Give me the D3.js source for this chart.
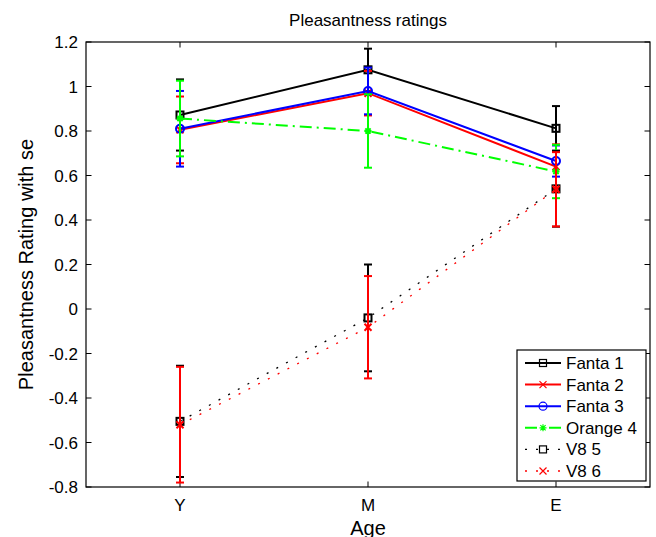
<!DOCTYPE html>
<html>
<head>
<meta charset="utf-8">
<script src="https://cdn.jsdelivr.net/npm/d3@7"></script>
<style>
body { margin: 0; background: #fff; }
text { font-family: "Liberation Sans", Arial, Helvetica, sans-serif; }
</style>
</head>
<body>
<div id="canvas"></div>
<script>
// data
var categories = ["Y", "M", "E"];
var seriesNames = ["Fanta 1", "Fanta 2", "Fanta 3", "Orange 4", "V8 5", "V8 6"];
var fanta1 = [0.872, 1.075, 0.812];
var fanta1Se = [0.16, 0.095, 0.10];
var fanta2 = [0.805, 0.97, 0.64];
var fanta2Se = [0.15, 0.10, 0.10];
var fanta3 = [0.81, 0.98, 0.665];
var fanta3Se = [0.17, 0.105, 0.07];
var orange4 = [0.856, 0.80, 0.618];
var orange4Se = [0.17, 0.165, 0.12];
var v8a = [-0.505, -0.04, 0.54];
var v8aSe = [0.25, 0.24, 0.17];
var v8b = [-0.52, -0.082, 0.538];
var v8bSe = [0.26, 0.23, 0.167];
var yTicks = [-0.8, -0.6, -0.4, -0.2, 0, 0.2, 0.4, 0.6, 0.8, 1, 1.2];

var width = 656, height = 537;
var plotLeft = 86, plotRight = 650, plotTop = 42, plotBottom = 487;

var svg = d3.select("#canvas")
	.append("svg")
	.attr("width", width)
	.attr("height", height);

var x = d3.scaleLinear().domain([0.5, 3.5]).range([plotLeft, plotRight]);
var y = d3.scaleLinear().domain([-0.8, 1.2]).range([plotBottom, plotTop]);

var styles = [
	{ color: "#000000", dash: null, width: 2, marker: "square" },
	{ color: "#ff0000", dash: null, width: 2, marker: "x" },
	{ color: "#0000ff", dash: null, width: 2, marker: "circle" },
	{ color: "#00ff00", dash: "12,5,2,5", width: 2, marker: "star" },
	{ color: "#000000", dash: "2,9", width: 1.3, marker: "square" },
	{ color: "#ff0000", dash: "2,9", width: 1.3, marker: "x" }
];

var series = [
	{ name: seriesNames[0], mean: fanta1, se: fanta1Se },
	{ name: seriesNames[1], mean: fanta2, se: fanta2Se },
	{ name: seriesNames[2], mean: fanta3, se: fanta3Se },
	{ name: seriesNames[3], mean: orange4, se: orange4Se },
	{ name: seriesNames[4], mean: v8a, se: v8aSe },
	{ name: seriesNames[5], mean: v8b, se: v8bSe }
];

// axes box
svg.append("rect")
	.attr("x", plotLeft).attr("y", plotTop)
	.attr("width", plotRight - plotLeft).attr("height", plotBottom - plotTop)
	.attr("fill", "none").attr("stroke", "#000").attr("stroke-width", 1.2);

var tickLen = 5.5;
var g = svg.append("g");

yTicks.forEach(function(t) {
	g.append("line").attr("x1", plotLeft).attr("x2", plotLeft + tickLen)
		.attr("y1", y(t)).attr("y2", y(t)).attr("stroke", "#000");
	g.append("line").attr("x1", plotRight).attr("x2", plotRight - tickLen)
		.attr("y1", y(t)).attr("y2", y(t)).attr("stroke", "#000");
	g.append("text").text(String(Math.round(t * 10) / 10))
		.attr("x", plotLeft - 8).attr("y", y(t) + 6)
		.attr("text-anchor", "end").attr("font-size", 17);
});

categories.forEach(function(c, i) {
	g.append("line").attr("x1", x(i + 1)).attr("x2", x(i + 1))
		.attr("y1", plotBottom).attr("y2", plotBottom - tickLen).attr("stroke", "#000");
	g.append("line").attr("x1", x(i + 1)).attr("x2", x(i + 1))
		.attr("y1", plotTop).attr("y2", plotTop + tickLen).attr("stroke", "#000");
	g.append("text").text(c)
		.attr("x", x(i + 1)).attr("y", plotBottom + 24)
		.attr("text-anchor", "middle").attr("font-size", 17);
});

svg.append("text").text("Pleasantness ratings")
	.attr("x", (plotLeft + plotRight) / 2).attr("y", 26)
	.attr("text-anchor", "middle").attr("font-size", 17);
svg.append("text").text("Age")
	.attr("x", (plotLeft + plotRight) / 2).attr("y", 535)
	.attr("text-anchor", "middle").attr("font-size", 20);
svg.append("text").text("Pleasantness Rating with se")
	.attr("transform", "translate(33," + ((plotTop + plotBottom) / 2) + ") rotate(-90)")
	.attr("text-anchor", "middle").attr("font-size", 20);

function drawMarker(sel, type, cx, cy, color, sw) {
	var s = 3.5;
	if (type === "square") {
		sel.append("rect").attr("x", cx - s).attr("y", cy - s)
			.attr("width", 2 * s).attr("height", 2 * s)
			.attr("fill", "none").attr("stroke", color).attr("stroke-width", sw);
	} else if (type === "circle") {
		sel.append("circle").attr("cx", cx).attr("cy", cy).attr("r", 4)
			.attr("fill", "none").attr("stroke", color).attr("stroke-width", sw);
	} else if (type === "x") {
		sel.append("path")
			.attr("d", "M" + (cx - s) + "," + (cy - s) + "L" + (cx + s) + "," + (cy + s) +
				"M" + (cx - s) + "," + (cy + s) + "L" + (cx + s) + "," + (cy - s))
			.attr("stroke", color).attr("stroke-width", sw);
	} else if (type === "star") {
		sel.append("path")
			.attr("d", "M" + (cx - s) + "," + cy + "L" + (cx + s) + "," + cy +
				"M" + cx + "," + (cy - s) + "L" + cx + "," + (cy + s) +
				"M" + (cx - s * 0.75) + "," + (cy - s * 0.75) + "L" + (cx + s * 0.75) + "," + (cy + s * 0.75) +
				"M" + (cx - s * 0.75) + "," + (cy + s * 0.75) + "L" + (cx + s * 0.75) + "," + (cy - s * 0.75))
			.attr("stroke", color).attr("stroke-width", sw);
	}
}

var line = d3.line()
	.x(function(d, i) { return x(i + 1); })
	.y(function(d) { return y(d); });

var capW = 4;
series.forEach(function(s, k) {
	var st = styles[k];
	var sg = svg.append("g");
	// error bars
	s.mean.forEach(function(m, i) {
		var cx = x(i + 1);
		var lo = y(m - s.se[i]), hi = y(m + s.se[i]);
		sg.append("line").attr("x1", cx).attr("x2", cx).attr("y1", lo).attr("y2", hi)
			.attr("stroke", st.color).attr("stroke-width", 2);
		sg.append("line").attr("x1", cx - capW).attr("x2", cx + capW).attr("y1", lo).attr("y2", lo)
			.attr("stroke", st.color).attr("stroke-width", 2);
		sg.append("line").attr("x1", cx - capW).attr("x2", cx + capW).attr("y1", hi).attr("y2", hi)
			.attr("stroke", st.color).attr("stroke-width", 2);
	});
	sg.append("path").attr("d", line(s.mean))
		.attr("fill", "none").attr("stroke", st.color)
		.attr("stroke-width", st.width)
		.attr("stroke-dasharray", st.dash);
	s.mean.forEach(function(m, i) {
		drawMarker(sg, st.marker, x(i + 1), y(m), st.color, 2);
	});
});

// legend
var lg = svg.append("g");
lg.append("rect").attr("x", 517).attr("y", 350).attr("width", 129).attr("height", 131)
	.attr("fill", "#fff").attr("stroke", "#000").attr("stroke-width", 1.2);
series.forEach(function(s, k) {
	var st = styles[k];
	var ly = 363 + k * 21.6;
	lg.append("line").attr("x1", 525).attr("x2", 561).attr("y1", ly).attr("y2", ly)
		.attr("stroke", st.color).attr("stroke-width", st.width)
		.attr("stroke-dasharray", st.dash);
	drawMarker(lg, st.marker, 543, ly, st.color, 1.2);
	lg.append("text").text(s.name).attr("x", 566).attr("y", ly + 6)
		.attr("font-size", 17);
});
</script>
</body>
</html>
